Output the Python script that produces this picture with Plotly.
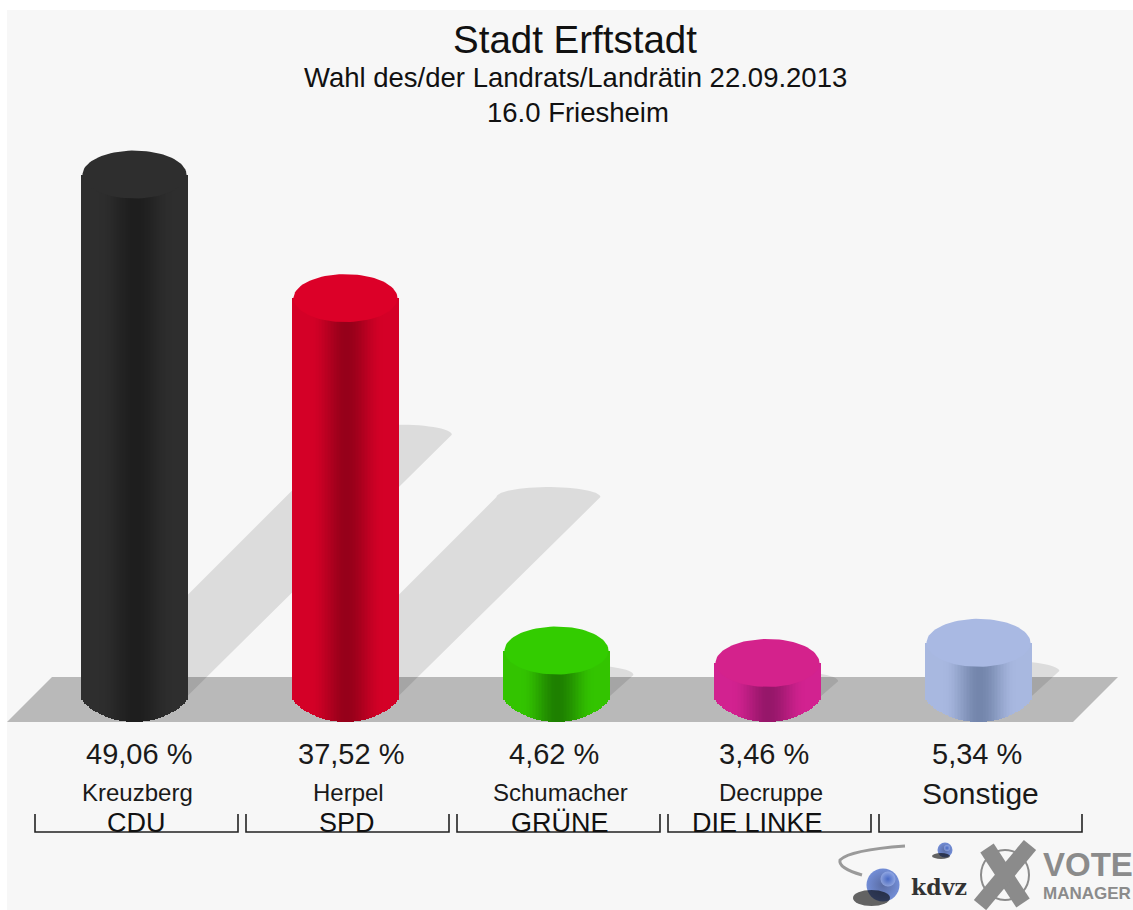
import numpy as np
import plotly.graph_objects as go

# ---- data ----
candidates = ["Kreuzberg", "Herpel", "Schumacher", "Decruppe", "Sonstige"]
parties = ["CDU", "SPD", "GRÜNE", "DIE LINKE", ""]
values = [49.06, 37.52, 4.62, 3.46, 5.34]
value_labels = ["49,06 %", "37,52 %", "4,62 %", "3,46 %", "5,34 %"]
title_lines = ["Stadt Erftstadt", "Wahl des/der Landrats/Landrätin 22.09.2013", "16.0 Friesheim"]

# ---- style ----
edge_colors = [(46, 46, 46), (212, 0, 39), (51, 196, 0), (210, 34, 144), (168, 184, 224)]
dark_colors = [(30, 30, 30), (150, 0, 26), (30, 128, 0), (150, 23, 106), (116, 134, 172)]
top_colors = ["#2e2e2e", "#dc0028", "#33cc00", "#d4228c", "#a9b9e3"]
value_nudge = [4, 5, -3, -4, -2]
name_nudge = [3, 3, 3.5, 3.5, 2]
party_nudge = [2, 1, 3, -10, 0]
W, H = 1133, 910
BASE_PX, SCALE = 700, 10.71
CX0, STEP = 134.5, 211
A, B, BOTTOM = 52, 24, 22
SANS = "Liberation Sans"


def Y(px):
    return (BASE_PX - px) / SCALE


def path(xs, ys):
    return "M" + "L".join(f"{x:.2f},{y:.4f}" for x, y in zip(xs, ys)) + "Z"


fig = go.Figure()
shapes = [dict(type="rect", x0=7, x1=W, y0=Y(10), y1=Y(H), fillcolor="#f7f7f7",
               line_width=0, layer="below")]
# floor
shapes.append(dict(type="path", layer="below", fillcolor="#b9b9b9", line_width=0,
                   path=path([7, 1073, 1118, 52], [Y(722), Y(722), Y(677), Y(677)])))
# shadows
for i, v in enumerate(values):
    cx = CX0 + STEP * i
    dy = 0.505 * v * SCALE
    th = np.linspace(np.pi, 0, 30)
    xs = [cx - A] + list(cx + dy + A * np.cos(th)) + [cx + A - 3]
    ys = [Y(BASE_PX)] + [Y(BASE_PX - dy - 10 * s) for s in np.sin(th)] + [Y(BASE_PX)]
    shapes.append(dict(type="path", layer="below", fillcolor="rgba(0,0,0,0.105)",
                       line_width=0, path=path(xs, ys)))

# cylinders
u = np.linspace(-1, 1, 71)
for i, v in enumerate(values):
    cx = CX0 + STEP * i
    off = BOTTOM * (1 - u ** 2) ** 0.8
    t = np.clip(1 - np.abs(u - 0.03) / 0.7, 0, 1)
    t = t * t * (3 - 2 * t)
    e, d = np.array(edge_colors[i]), np.array(dark_colors[i])
    cols = ["rgb(%d,%d,%d)" % tuple(e + (d - e) * k) for k in t]
    fig.add_trace(go.Bar(x=cx + A * u, y=v + off / SCALE, base=-off / SCALE,
                         width=2.1, marker=dict(color=cols, line_width=0),
                         showlegend=False, hoverinfo="skip"))
    th = np.linspace(0, 2 * np.pi, 90)
    fig.add_trace(go.Scatter(x=cx + A * np.cos(th), y=v + B / SCALE * np.sin(th),
                             mode="lines", line=dict(width=0), fill="toself",
                             fillcolor=top_colors[i], showlegend=False, hoverinfo="skip"))

# brackets
for i in range(5):
    x0 = 35 + STEP * i
    fig.add_trace(go.Scatter(x=[x0, x0, x0 + 203, x0 + 203], y=[Y(814), Y(832), Y(832), Y(814)],
                             mode="lines", line=dict(color="#222222", width=1.6),
                             showlegend=False, hoverinfo="skip"))

ann = []


def text(s, x, px, size, color="#111111", family=SANS, anchor="center"):
    ann.append(dict(text=s, x=x, y=Y(px), xref="x", yref="y", showarrow=False, xanchor=anchor,
                    yanchor="middle", font=dict(size=size, color=color, family=family)))


text(title_lines[0], 575, 39, 38.5)
text(title_lines[1], 575, 77, 27.5)
text(title_lines[2], 578, 112, 27.5)
for i in range(5):
    cx = CX0 + STEP * i
    text(value_labels[i], cx + value_nudge[i], 754, 29, "#1a1a1a")
    if i < 4:
        text(candidates[i], cx + name_nudge[i], 792.5, 24, "#1a1a1a")
        text(parties[i], cx + party_nudge[i], 822.5, 27, "#111111")
    else:
        text(candidates[i], cx + name_nudge[i], 793, 30, "#1a1a1a")

# logo
shapes += [
    dict(type="path", layer="above", line=dict(color="#9a9a9a", width=3),
         path="M 905,%f Q 850,%f 840,%f Q 838,%f 862,%f" % (Y(846), Y(850), Y(860), Y(868), Y(875))),
    dict(type="circle", x0=981, x1=1029, y0=Y(850), y1=Y(900), layer="above", line=dict(color="#8b8b8b", width=2)),
    dict(type="line", x0=987, x1=1023, y0=Y(848), y1=Y(903), layer="above", line=dict(color="#8b8b8b", width=16)),
    dict(type="line", x0=1030, x1=980, y0=Y(845), y1=Y(905), layer="above", line=dict(color="#8b8b8b", width=16)),
    dict(type="circle", x0=853, x1=890, y0=Y(890), y1=Y(906), layer="above", fillcolor="rgba(0,0,0,0.6)", line_width=0),
    dict(type="circle", x0=932, x1=950, y0=Y(853), y1=Y(859), layer="above", fillcolor="rgba(0,0,0,0.6)", line_width=0),
]
fig.add_trace(go.Scatter(x=[883, 945], y=[Y(885), Y(850)], mode="markers", showlegend=False, hoverinfo="skip",
                         marker=dict(size=[33, 15], color="#3a60c8", line_width=0,
                                     gradient=dict(type="radial", color="#16307f"))))
fig.add_trace(go.Scatter(x=[888, 947], y=[Y(879), Y(848)], mode="markers", showlegend=False, hoverinfo="skip",
                         marker=dict(size=[15, 6], color="#9fb4ec", line_width=0,
                                     gradient=dict(type="radial", color="#3a60c8"))))
text("<b>kdvz</b>", 939, 887, 22, "#333333", "DejaVu Serif")
text("<b>VOTE</b>", 1041, 864, 33, "#8b8b8b", SANS, "left")
text("<b>MANAGER</b>", 1041, 893, 17, "#8b8b8b", SANS, "left")

fig.update_layout(
    width=W, height=H, margin=dict(l=0, r=0, t=0, b=0), paper_bgcolor="white", plot_bgcolor="rgba(0,0,0,0)",
    barmode="overlay", bargap=0, shapes=shapes, annotations=ann, showlegend=False,
    xaxis=dict(range=[0, W], visible=False, fixedrange=True),
    yaxis=dict(range=[Y(H), Y(0)], visible=False, fixedrange=True),
)
fig.write_html("out.html", config=dict(displayModeBar=False),
               post_script="document.body.style.margin='0';document.body.style.overflow='hidden';")
